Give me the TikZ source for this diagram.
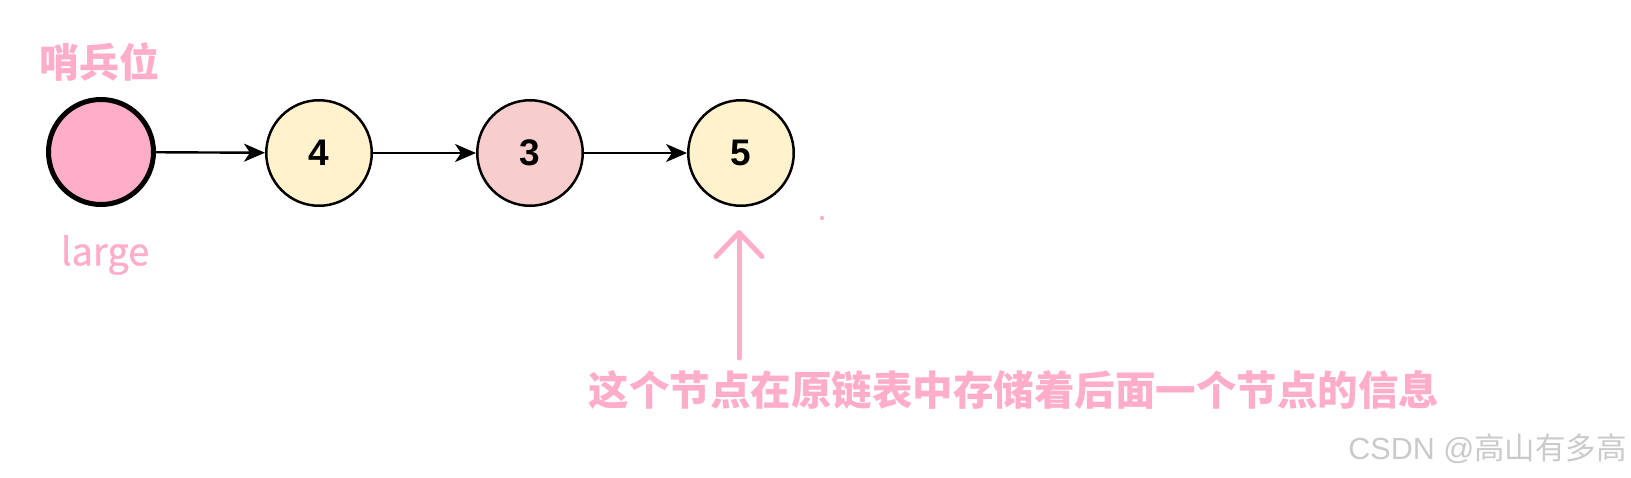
\documentclass[tikz,border=0pt]{standalone}
\usepackage{fontspec}
\setmainfont{Liberation Sans}
\newfontfamily\cjk{Noto Sans CJK SC}
\newfontfamily\cjkmed[FakeBold=0.7]{Noto Sans CJK SC}
\usetikzlibrary{arrows.meta}
\definecolor{pinktxt}{HTML}{FFADC9}
\definecolor{sentfill}{HTML}{FFADC9}
\definecolor{yelfill}{HTML}{FFF2CC}
\definecolor{redfill}{HTML}{F8CECC}
\definecolor{wmgray}{HTML}{CACACA}
\tikzset{
  listnode/.style={circle, draw=black, line width=2.5pt, minimum size=105.5pt, inner sep=0pt,
    font=\fontsize{37}{40}\selectfont\bfseries},
  sentinel/.style={circle, draw=black, line width=5pt, minimum size=105pt, fill=sentfill},
  link/.style={line width=2.4pt, -{Stealth[length=21pt,width=18pt,inset=6pt]}},
  pinklabel/.style={text=pinktxt, inner sep=0pt},
  pointer/.style={draw=pinktxt, line width=5pt, line cap=round, line join=round,
    -{Straight Barb[round,length=24pt,width=46pt]}}
}
\begin{document}
\begin{tikzpicture}[x=1pt,y=-1pt]
\useasboundingbox (0,0) rectangle (1631,477);
\node[sentinel] (s) at (101,152) {};
\node[listnode, fill=yelfill] (n4) at (319,153) {4};
\node[listnode, fill=redfill] (n3) at (530,153) {3};
\node[listnode, fill=yelfill] (n5) at (741,153) {5};
\draw[link] (s) -- (n4);
\draw[link] (n4) -- (n3);
\draw[link] (n3) -- (n5);
\node[pinklabel, font=\cjk\fontsize{40}{43}\selectfont\bfseries] (title) at (99,62) {哨兵位};
\node[pinklabel, font=\cjkmed\fontsize{38}{42}\selectfont] (large) at (105,255) {large};
\coordinate (ptail) at (739,358);
\coordinate (ptip) at (739,230);
\draw[pointer] (ptail) -- (ptip);
\fill[pinktxt] (822,218) circle (2.2pt);
\node[pinklabel, font=\cjk\fontsize{40.5}{44}\selectfont\bfseries] (note) at (1014,390) {这个节点在原链表中存储着后面一个节点的信息};
\node[text=wmgray, anchor=east, inner sep=0pt, font=\fontsize{30.5}{33}\selectfont] (wm) at (1627,449) {CSDN @{\cjk 高山有多高}};
\end{tikzpicture}
\end{document}
